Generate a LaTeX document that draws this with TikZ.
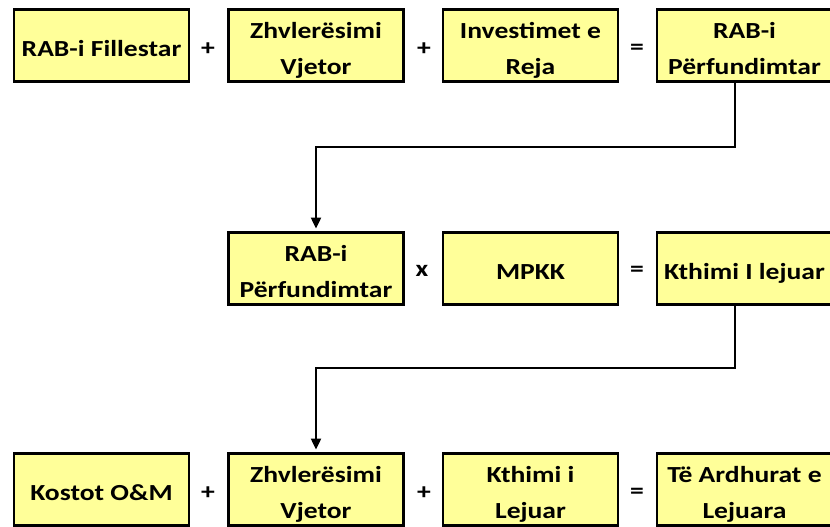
\documentclass[tikz,border=0pt]{standalone}
\usepackage{fontspec}
\setmainfont{Carlito}[FakeStretch=1.2]
\usetikzlibrary{arrows.meta,calc}
\definecolor{boxyellow}{HTML}{FFFF99}
\newcommand{\boxtext}[1]{\raisebox{-4pt}[\height][\depth]{\begin{tabular}{@{}c@{}}#1\end{tabular}}}
\tikzset{
  box/.style={draw=black, line width=2.8pt, fill=boxyellow, minimum width=175pt, minimum height=72pt,
    inner sep=0pt, font=\fontsize{23}{36}\selectfont\bfseries},
  op/.style={inner sep=0pt, font=\fontsize{23}{26}\selectfont\bfseries},
  conn/.style={draw=black, line width=2pt},
  arr/.style={conn, -{Triangle[width=10pt,length=11pt]}, shorten >=2.5pt}
}
\begin{document}
\begin{tikzpicture}[x=1pt,y=1pt]
\useasboundingbox (0,0) rectangle (830,-527);
% row 1
\node[box] (a1) at (101.5,-45.5) {\boxtext{RAB-i Fillestar}};
\node[box] (a2) at (316,-45.5) {\boxtext{Zhvlerësimi\\Vjetor}};
\node[box] (a3) at (530.5,-45.5) {\boxtext{Investimet e\\Reja}};
\node[box] (a4) at (744.5,-45.5) {\boxtext{RAB-i\\Përfundimtar}};
\node[op] (p1) at (208,-49) {+};
\node[op] (p2) at (424,-49) {+};
\node[op] (p3) at (637,-49) {=};
% row 2
\node[box] (b1) at (316,-268.5) {\boxtext{RAB-i\\Përfundimtar}};
\node[box] (b2) at (530.5,-268.5) {\boxtext{MPKK}};
\node[box] (b3) at (744.5,-268.5) {\boxtext{Kthimi I lejuar}};
\node[op] (x1) at (422,-271) {x};
\node[op] (e2) at (637,-271) {=};
% row 3
\node[box] (c1) at (101.5,-489.5) {\boxtext{Kostot O\&M}};
\node[box] (c2) at (316,-489.5) {\boxtext{Zhvlerësimi\\Vjetor}};
\node[box] (c3) at (530.5,-489.5) {\boxtext{Kthimi i\\Lejuar}};
\node[box] (c4) at (744.5,-489.5) {\boxtext{Të Ardhurat e\\Lejuara}};
\node[op] (p4) at (208,-493) {+};
\node[op] (p5) at (424,-493) {+};
\node[op] (e3) at (637,-493) {=};
% connectors
\coordinate (s1) at ([xshift=-9.5pt]a4.south);
\coordinate (s2) at ([xshift=-9.5pt]b3.south);
\draw[arr] (s1) -- ++(0,-64) -| (b1.north);
\draw[arr] (s2) -- ++(0,-62) -| (c2.north);
\end{tikzpicture}
\end{document}
